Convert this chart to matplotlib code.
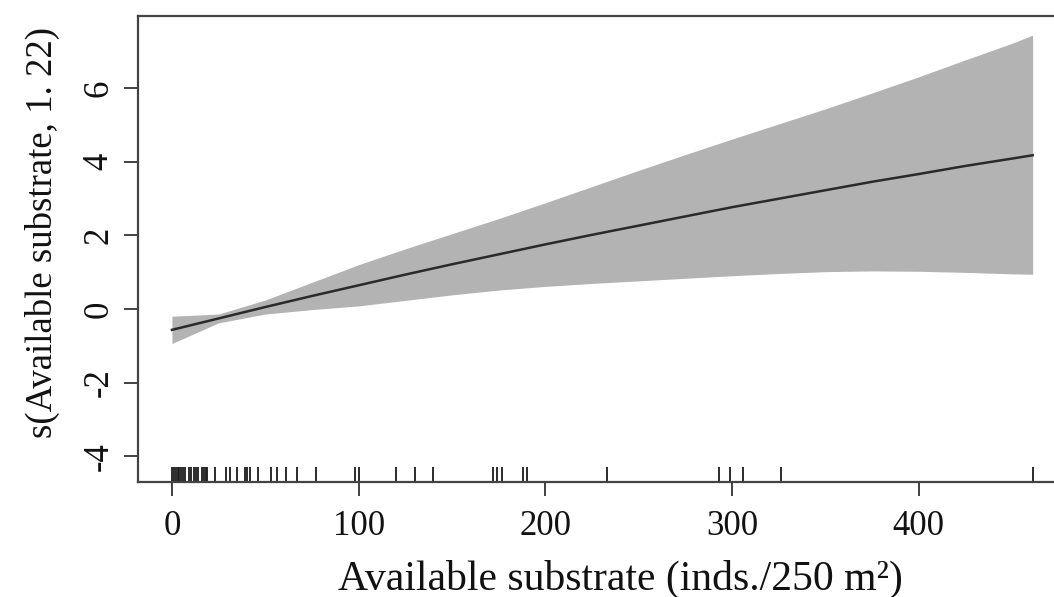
import matplotlib
matplotlib.use("Agg")
import matplotlib.pyplot as plt
import numpy as np

# Smooth term s(Available substrate): fitted curve and +/- 2 SE band
x_grid = [0, 25, 50, 75, 100, 125, 150, 175, 200, 225, 250, 275, 300,
          325, 350, 375, 400, 425, 450, 461]
fit = [-0.57, -0.26, 0.05, 0.35, 0.64, 0.93, 1.21, 1.48, 1.75, 2.01, 2.26,
       2.51, 2.76, 2.99, 3.22, 3.45, 3.66, 3.88, 4.08, 4.17]
upper = [-0.20, -0.14, 0.24, 0.72, 1.20, 1.63, 2.04, 2.45, 2.88, 3.32, 3.76,
         4.19, 4.61, 5.02, 5.43, 5.86, 6.30, 6.76, 7.21, 7.43]
lower = [-0.94, -0.38, -0.14, -0.02, 0.08, 0.23, 0.38, 0.51, 0.61, 0.69, 0.76,
         0.83, 0.90, 0.96, 1.01, 1.03, 1.02, 0.99, 0.95, 0.94]

# Observed covariate values (rug)
rug_x = [0, 1, 2, 3, 4, 5, 6, 7, 9, 10, 12, 13, 14, 16, 17, 18, 19, 23,
         29, 31, 35, 39, 40, 42, 46, 53, 56, 61, 67, 77, 98, 100, 120, 130,
         140, 172, 174, 177, 188, 190, 233, 293, 299, 306, 326, 461]

x_ticks = [0, 100, 200, 300, 400]
y_ticks = [-4, -2, 0, 2, 4, 6]

W, H = 1054, 597
fig = plt.figure(figsize=(W / 100, H / 100), dpi=100)
plt.rcParams["font.family"] = ["Liberation Serif", "DejaVu Serif"]

left_px, right_px, top_px, bottom_px = 137.6, 1067.0, 16.0, 482.0
ax = fig.add_axes([left_px / W, 1 - bottom_px / H,
                   (right_px - left_px) / W, (bottom_px - top_px) / H])

ax.fill_between(x_grid, lower, upper, color="#b3b3b3", linewidth=0)
ax.plot(x_grid, fit, color="#2a2a2a", linewidth=1.8)

ax.set_xlim(-18.4, 479.4)
ax.set_ylim(-4.70, 7.95)

# rug along the bottom axis
ax.vlines(rug_x, 0, 0.032, transform=ax.get_xaxis_transform(),
          color="#1a1a1a", linewidth=1.3)

ax.set_xticks(x_ticks)
ax.set_yticks(y_ticks)
ax.set_xticklabels([str(v) for v in x_ticks])
ax.set_yticklabels([str(v) for v in y_ticks], rotation=90, va="center")
ax.tick_params(axis="both", direction="out", length=10, width=1.3,
               color="#333333", labelsize=25, labelcolor="#111111")
ax.tick_params(axis="x", pad=10)
ax.tick_params(axis="y", pad=6)

for side in ("left", "bottom", "top", "right"):
    ax.spines[side].set_color("#444444")
    ax.spines[side].set_linewidth(1.6)

fig.text(620 / W, 1 - 590 / H, "Available substrate (inds./250 m²)",
         ha="center", va="baseline", fontsize=30, color="#111111")
fig.text(42 / W, 1 - 233 / H, "s(Available substrate, 1. 22)",
         ha="center", va="center", rotation=90, fontsize=26.5, color="#111111")

fig.savefig("out.png", dpi=100)
